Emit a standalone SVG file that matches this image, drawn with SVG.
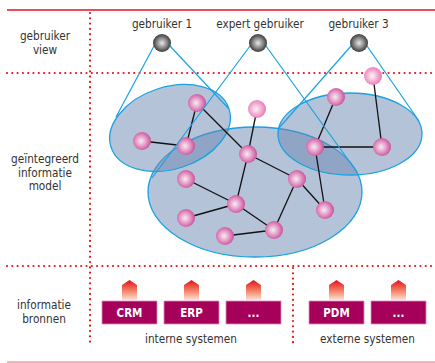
<svg xmlns="http://www.w3.org/2000/svg" width="435" height="363" viewBox="0 0 435 363">
<style>
.lbl{font-family:"DejaVu Sans Condensed","Liberation Sans Narrow","Liberation Sans",sans-serif;font-size:11.7px;fill:#333;text-anchor:middle}
.box{fill:#a5005a;stroke:#e58bb8;stroke-width:0.8}
.bt{font-family:"DejaVu Sans Condensed","Liberation Sans Narrow","Liberation Sans",sans-serif;font-size:11.5px;font-weight:bold;fill:#fff;text-anchor:middle}
.dot{stroke:#e8101e;stroke-width:2.2;stroke-linecap:round;stroke-dasharray:0 5.3;fill:none}
.ell{fill:#6b87b2;fill-opacity:0.5;stroke:#1aa2e0;stroke-width:1.3}
.edge{stroke:#111;stroke-width:1.3}
.ray{stroke:#1aa2e0;stroke-width:1.2}
.arr{fill:url(#ag)}
</style>
<defs>
<radialGradient id="pg" cx="0.45" cy="0.5" r="0.55">
<stop offset="0" stop-color="#f4eef4"/>
<stop offset="0.55" stop-color="#e496c4"/>
<stop offset="1" stop-color="#c8509a"/>
</radialGradient>
<radialGradient id="pl" cx="0.45" cy="0.5" r="0.55">
<stop offset="0" stop-color="#fff6fa"/>
<stop offset="0.55" stop-color="#f4aed2"/>
<stop offset="1" stop-color="#e478b4"/>
</radialGradient>
<radialGradient id="gg" cx="0.5" cy="0.5" r="0.55">
<stop offset="0" stop-color="#e8e8e8"/>
<stop offset="0.5" stop-color="#8a8a8a"/>
<stop offset="1" stop-color="#2a2a2a"/>
</radialGradient>
<linearGradient id="ag" x1="0" y1="0" x2="0" y2="1">
<stop offset="0" stop-color="#e4101e"/>
<stop offset="0.5" stop-color="#f27a5e"/>
<stop offset="1" stop-color="#fde2d6"/>
</linearGradient>
</defs>

<g id="frame">
<line x1="7" y1="10" x2="435" y2="10" stroke="#ec4c5a" stroke-width="2"/>
<line x1="7" y1="362" x2="435" y2="362" stroke="#f59aa2" stroke-width="1.5"/>
<line class="dot" x1="7" y1="73" x2="435" y2="73"/>
<line class="dot" x1="7" y1="266" x2="435" y2="266"/>
<line class="dot" x1="90" y1="13" x2="90" y2="346"/>
<line class="dot" x1="293" y1="268" x2="293" y2="346"/>
</g>

<g id="row-labels">
<text class="lbl" x="45" y="40">gebruiker</text>
<text class="lbl" x="45" y="53.5">view</text>
<text class="lbl" x="45" y="163">geïntegreerd</text>
<text class="lbl" x="45" y="176.5">informatie</text>
<text class="lbl" x="45" y="190">model</text>
<text class="lbl" x="44" y="308.5">informatie</text>
<text class="lbl" x="44" y="322.5">bronnen</text>
</g>

<g id="ellipses">
<ellipse class="ell" cx="255" cy="192" rx="107" ry="65"/>
<ellipse class="ell" cx="170" cy="128" rx="62" ry="41" transform="rotate(-18 170 128)"/>
<ellipse class="ell" cx="350" cy="134" rx="72" ry="41"/>
</g>

<g id="connectors">
<line class="edge" x1="197" y1="103" x2="186" y2="146"/>
<line class="edge" x1="197" y1="103" x2="248" y2="154"/>
<line class="edge" x1="142" y1="141" x2="186" y2="146"/>
<line class="edge" x1="257" y1="109" x2="248" y2="154"/>
<line class="edge" x1="248" y1="154" x2="297" y2="179"/>
<line class="edge" x1="248" y1="154" x2="236" y2="204"/>
<line class="edge" x1="186" y1="179" x2="236" y2="204"/>
<line class="edge" x1="186" y1="218" x2="236" y2="204"/>
<line class="edge" x1="236" y1="204" x2="274" y2="230"/>
<line class="edge" x1="297" y1="179" x2="274" y2="230"/>
<line class="edge" x1="297" y1="179" x2="325" y2="210"/>
<line class="edge" x1="225" y1="236" x2="274" y2="230"/>
<line class="edge" x1="315" y1="147" x2="336" y2="97"/>
<line class="edge" x1="315" y1="147" x2="382" y2="147"/>
<line class="edge" x1="373" y1="76" x2="382" y2="147"/>
<line class="edge" x1="315" y1="147" x2="325" y2="210"/>
</g>

<g id="model-nodes">
<circle cx="197" cy="103" r="9" fill="url(#pg)"/>
<circle cx="142" cy="141" r="9" fill="url(#pg)"/>
<circle cx="186" cy="146" r="9" fill="url(#pg)"/>
<circle cx="257" cy="109" r="9" fill="url(#pl)"/>
<circle cx="248" cy="154" r="9" fill="url(#pg)"/>
<circle cx="186" cy="179" r="9" fill="url(#pg)"/>
<circle cx="297" cy="179" r="9" fill="url(#pg)"/>
<circle cx="236" cy="204" r="9" fill="url(#pg)"/>
<circle cx="186" cy="218" r="9" fill="url(#pg)"/>
<circle cx="325" cy="210" r="9" fill="url(#pg)"/>
<circle cx="274" cy="230" r="9" fill="url(#pg)"/>
<circle cx="225" cy="236" r="9" fill="url(#pg)"/>
<circle cx="315" cy="147" r="9" fill="url(#pg)"/>
<circle cx="336" cy="97" r="9" fill="url(#pg)"/>
<circle cx="382" cy="147" r="9" fill="url(#pg)"/>
<circle cx="373" cy="76" r="9" fill="url(#pl)"/>
</g>

<g id="view-rays">
<line class="ray" x1="154" y1="46" x2="116" y2="117"/>
<line class="ray" x1="170" y1="46" x2="229" y2="109"/>
<line class="ray" x1="250" y1="46" x2="152" y2="178"/>
<line class="ray" x1="266" y1="46" x2="357" y2="172"/>
<line class="ray" x1="351" y1="46" x2="279" y2="128"/>
<line class="ray" x1="367" y1="46" x2="419" y2="121"/>
</g>

<g id="gebruiker1">
<text class="lbl" x="162" y="28">gebruiker 1</text>
<circle cx="162" cy="43" r="9" fill="url(#gg)"/>
</g>
<g id="expert-gebruiker">
<text class="lbl" x="260" y="28">expert gebruiker</text>
<circle cx="258" cy="43" r="9" fill="url(#gg)"/>
</g>
<g id="gebruiker3">
<text class="lbl" x="358.5" y="28">gebruiker 3</text>
<circle cx="359" cy="43" r="9" fill="url(#gg)"/>
</g>

<g id="crm">
<path class="arr" d="M129.5 280 L137 285 L137 300 L122 300 L122 285 Z"/>
<rect class="box" x="102" y="301" width="55" height="23"/>
<text class="bt" x="129.5" y="317">CRM</text>
</g>
<g id="erp">
<path class="arr" d="M191.5 280 L199 285 L199 300 L184 300 L184 285 Z"/>
<rect class="box" x="164" y="301" width="55" height="23"/>
<text class="bt" x="191.5" y="317">ERP</text>
</g>
<g id="intern-other">
<path class="arr" d="M253.5 280 L261 285 L261 300 L246 300 L246 285 Z"/>
<rect class="box" x="226" y="301" width="55" height="23"/>
<text class="bt" x="253.5" y="317">...</text>
</g>
<g id="pdm">
<path class="arr" d="M336.5 280 L344 285 L344 300 L329 300 L329 285 Z"/>
<rect class="box" x="309" y="301" width="55" height="23"/>
<text class="bt" x="336.5" y="317">PDM</text>
</g>
<g id="extern-other">
<path class="arr" d="M398.5 280 L406 285 L406 300 L391 300 L391 285 Z"/>
<rect class="box" x="371" y="301" width="55" height="23"/>
<text class="bt" x="398.5" y="317">...</text>
</g>

<g id="group-labels">
<text class="lbl" x="191" y="343">interne systemen</text>
<text class="lbl" x="367.5" y="343">externe systemen</text>
</g>
</svg>
